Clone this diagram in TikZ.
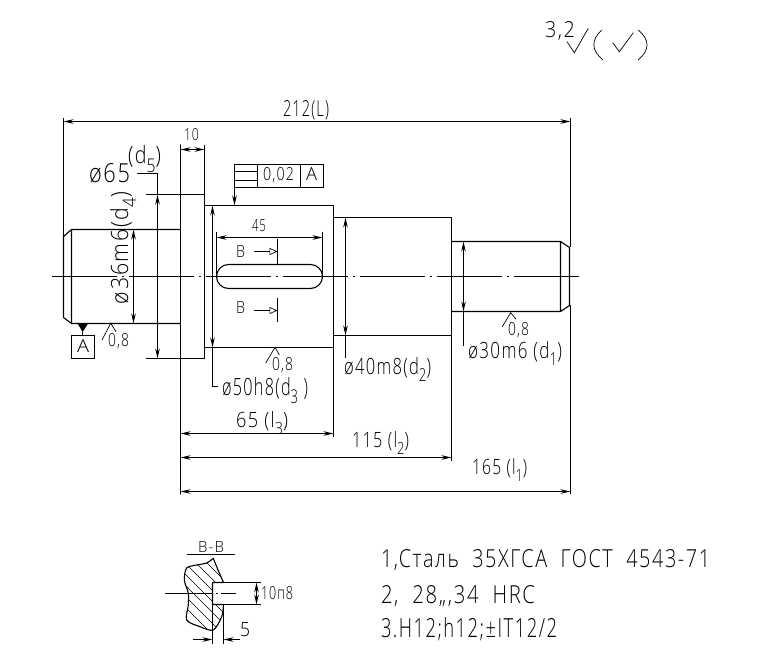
\documentclass[tikz,border=0pt]{standalone}
\usepackage{fontspec}
\usepackage{graphicx}
\setmainfont{Open Sans Light}[LetterSpace=8]
\usetikzlibrary{arrows.meta}
\tikzset{
 x=1pt,y=-1pt,
 obj/.style={line width=1.1pt,black,line cap=round,line join=round},
 thin line/.style={line width=0.9pt,black},
 dim/.style={line width=0.9pt,black,arrows={Stealth[length=10pt,width=4.5pt]-Stealth[length=10pt,width=4.5pt]}},
 arr/.style={line width=0.9pt,black,-{Stealth[length=10pt,width=4.5pt]}},
 open/.style={line width=0.7pt,black,-{Triangle[open,length=8pt,width=7pt]}},
 center/.style={line width=0.8pt,black,dash pattern=on 65pt off 5pt on 2pt off 5pt},
 hatch/.style={line width=0.6pt,black},
 txt/.style={inner sep=0pt,outer sep=0pt,anchor=base west,text=black},
 rough/.style={line width=0.7pt,black}
}
% text fitted to a width and a height (px)
\newcommand{\fit}[3]{\resizebox{#1pt}{#2pt}{#3}}
\newcommand{\sbs}[1]{\raisebox{-0.35em}{\footnotesize #1}}
\begin{document}
\begin{tikzpicture}
\useasboundingbox (0,0) rectangle (757,660);
% ---- shaft outline
\draw[obj] (63.5,236.5) -- (71.5,229.5) -- (180.5,229.5) (63.5,236.5) -- (63.5,317.5) -- (71.5,323.5) -- (180.5,323.5) (71.5,229.5) -- (71.5,323.5);
\draw[obj] (180.5,194.5) -- (204.5,194.5) -- (204.5,358.5) -- (180.5,358.5);
\draw[obj] (180.5,145) -- (180.5,494);
\draw[obj] (204.5,205.5) -- (333.5,205.5) -- (333.5,347.5) -- (204.5,347.5);
\draw[obj] (333.5,217.5) -- (451.5,217.5) -- (451.5,335.5) -- (333.5,335.5);
\draw[obj] (451.5,241.5) -- (560.5,241.5) -- (569.5,247.5) -- (569.5,305.5) -- (560.5,311.5) -- (451.5,311.5) (560.5,241.5) -- (560.5,311.5);
% keyway
\draw[obj] (228.5,264.5) -- (310.5,264.5) arc[start angle=-90,end angle=90,radius=12] -- (228.5,288.5) arc[start angle=90,end angle=270,radius=12];
% centre lines
\draw[center] (52,276.5) -- (583,276.5);
% extension lines
\draw[thin line] (63.5,118) -- (63.5,236) (570.5,118) -- (570.5,247) (570.5,305) -- (570.5,494);
\draw[thin line] (204.5,145) -- (204.5,194);
\draw[thin line] (333.5,347) -- (333.5,437) (451.5,335) -- (451.5,461);
\draw[thin line] (146,194.5) -- (180.5,194.5) (146,358.5) -- (180.5,358.5);
\draw[thin line] (216.5,232) -- (216.5,276) (322.5,232) -- (322.5,276);
% dimensions
\draw[dim] (63.5,121.5) -- (570.5,121.5);
\draw[dim] (180.5,149.5) -- (204.5,149.5);
\draw[dim] (157.5,194.5) -- (157.5,358.5);
\draw[thin line] (157.5,194.5) -- (157.5,173.5) -- (137,173.5);
\draw[dim] (133.5,229.5) -- (133.5,323.5);
\draw[dim] (212.5,205.5) -- (212.5,347.5);
\draw[thin line] (212.5,347.5) -- (212.5,386.5) -- (218,386.5);
\draw[dim] (345.5,217.5) -- (345.5,335.5);
\draw[thin line] (345.5,335) -- (345.5,358);
\draw[dim] (463.5,241.5) -- (463.5,311.5);
\draw[thin line] (463.5,311) -- (463.5,346);
\draw[dim] (216.5,237.5) -- (322.5,237.5);
\draw[dim] (180.5,433.5) -- (333.5,433.5);
\draw[dim] (180.5,457.5) -- (451.5,457.5);
\draw[dim] (180.5,491.5) -- (570.5,491.5);
% section marks
\draw[thin line] (277.5,239) -- (277.5,264) (277.5,298) -- (277.5,322);
\draw[open] (254,251.5) -- (277.5,251.5);
\draw[open] (254,310.5) -- (277.5,310.5);
% tolerance frame
\draw[thin line] (234.5,164.5) rectangle (323.5,187.5) (257.5,164.5) -- (257.5,187.5) (300.5,164.5) -- (300.5,187.5);
\draw[thin line] (234.5,171.5) -- (257.5,171.5) (234.5,180.5) -- (257.5,180.5);
\draw[arr] (234.5,187.5) -- (234.5,205.5);
% datum
\fill[black] (77.5,323.5) -- (88,323.5) -- (82.7,332) -- cycle;
\draw[thin line] (82.5,332) -- (82.5,335);
\draw[thin line] (71.5,335.5) rectangle (94.5,358.5);
% roughness marks
\draw[rough] (102,340) -- (110.7,323.3) -- (116,331.7);
\draw[rough] (265.7,363) -- (275,347.3) -- (279.3,355);
\draw[rough] (502.3,326.7) -- (510.7,312.7) -- (516,319.3);
\draw[rough] (567,41.7) -- (574.3,52.7) -- (588.3,28.3);
\draw[rough] (612.7,42.7) -- (619.3,51.7) -- (633.3,32.7);
\draw[rough] (601.7,30) .. controls (591,40) and (591,50) .. (603,60);
\draw[rough] (638.3,30) .. controls (650,40) and (650,50) .. (638,60);
% texts
\node[txt] (t1) at (283,117) {\fit{46}{16}{212(L)}};
\node[txt] (t2) at (184,141) {\fit{15}{12}{10}};
\node[txt] (t3) at (545,38) {\fit{30}{16}{3,2}};
\node[txt] (t4) at (89,183) {\fit{41}{19}{ø65}};
\node[txt] (t5) at (128,164) {\fit{33}{18}{(d\sbs{5})}};
\node[txt,rotate=90] (t6) at (128,304) {\fit{112}{18}{ø36m6(d\sbs{4})}};
\node[txt] (t7) at (263,181) {\fit{31}{13}{0,02}};
\node[txt] (t8) at (306,181) {\fit{11}{13}{A}};
\node[txt] (t9) at (77,352) {\fit{12}{13}{A}};
\node[txt] (t10) at (108,346) {\fit{21}{13}{0,8}};
\node[txt] (t11) at (272,370) {\fit{21}{13}{0,8}};
\node[txt] (t12) at (508,335) {\fit{21}{13}{0,8}};
\node[txt] (t13) at (252,232) {\fit{14}{12}{45}};
\node[txt] (t14) at (236,258) {\fit{9}{12}{B}};
\node[txt] (t15) at (236,313) {\fit{9}{12}{B}};
\node[txt] (t16) at (222,395) {\fit{86}{18}{ø50h8(d\sbs{3} )}};
\node[txt] (t17) at (344,374) {\fit{87}{17}{ø40m8(d\sbs{2})}};
\node[txt] (t18) at (468,358) {\fit{94}{17}{ø30m6 (d\sbs{1})}};
\node[txt] (t19) at (236,427) {\fit{52}{16}{65 (l\sbs{3})}};
\node[txt] (t20) at (352,447) {\fit{57}{16}{115 (l\sbs{2})}};
\node[txt] (t21) at (472,474) {\fit{55}{16}{165 (l\sbs{1})}};
\node[txt] (t22) at (198,552) {\fit{26}{11}{B-B}};
\node[txt] (t23) at (261,599) {\fit{32}{13}{10п8}};
\node[txt] (t24) at (240,636) {\fit{10}{14}{5}};
\node[txt] (t25) at (381,567) {\fit{329}{18}{1,Сталь\ \ 35ХГСА\ \ ГОСТ\ \ 4543-71}};
\node[txt] (t26) at (381,603) {\fit{154}{18}{2,\ \ 28,,,34\ \ HRC}};
\node[txt] (t27) at (381,637) {\fit{176}{20}{3.H12;h12;±IT12/2}};
% section B-B
\draw[thin line] (186.5,554.5) -- (235,554.5);
\begin{scope}
\clip plot[smooth] coordinates {(213.3,558.3) (206.7,563) (196.7,565) (186.7,568) (184.3,580) (188.3,593) (188.3,605) (186.7,620) (200,626.7) (213.3,630) (221.7,616.7) (223.5,604.5)} -- (212.5,604.5) -- (212.5,582.5) -- (223.5,582.5) -- (218,570) -- cycle;
\foreach \k in {-88,-77,...,88}
  \draw[hatch] (205+\k-50,594-50) -- (205+\k+50,594+50);
\end{scope}
\draw[obj] plot[smooth] coordinates {(213.3,558.3) (206.7,563) (196.7,565) (186.7,568) (184.3,580) (188.3,593) (188.3,605) (186.7,620) (200,626.7) (213.3,630) (221.7,616.7) (223.5,604.5)} -- (212.5,604.5) -- (212.5,582.5) -- (223.5,582.5) -- (218,570) -- cycle;
\draw[thin line,dash pattern=on 48pt off 3pt on 2pt off 3pt] (165,593.5) -- (236,593.5);
\draw[thin line] (212.5,604.5) -- (212.5,644) (223.5,604.5) -- (223.5,644);
\draw[thin line] (223.5,582.5) -- (261,582.5) (223.5,604.5) -- (261,604.5);
\draw[dim] (256.5,582.5) -- (256.5,604.5);
\draw[arr] (193,639.5) -- (212.5,639.5);
\draw[arr] (240,639.5) -- (223.5,639.5);
\end{tikzpicture}
\end{document}
